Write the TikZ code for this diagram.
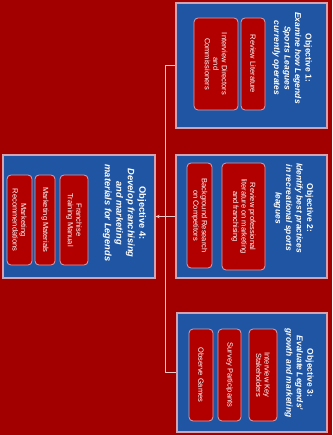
\documentclass[tikz,border=0pt]{standalone}
\usepackage{fontspec}
\setmainfont{Liberation Sans}
\usetikzlibrary{arrows.meta}
\definecolor{bgred}{HTML}{A20000}
\definecolor{objblue}{HTML}{1F55A2}
\definecolor{itemred}{HTML}{B20000}
\definecolor{edgepink}{HTML}{D6A2B0}
\definecolor{linepink}{HTML}{F0C6C6}

\begin{document}
\begin{tikzpicture}[x=1pt,y=-1pt,
    objbox/.style={draw=edgepink,fill=objblue,line width=1.2pt,inner sep=0pt,minimum width=151pt},
    itembox/.style={draw=edgepink,fill=itemred,rounded corners=4pt,line width=0.8pt,rotate=-90,
      align=center,text=white,inner sep=1pt,font=\fontsize{7.5}{8.5}\selectfont},
    heading/.style={rotate=-90,align=center,text=white,font=\fontsize{8.5}{10.5}\selectfont\bfseries},
    link/.style={draw=linepink,line width=0.8pt}]
    \fill[bgred] (0,0) rectangle (332,435);
    \useasboundingbox (0,0) rectangle (332,435);
    % objective boxes
    \node[objbox,minimum height=125pt] (obja) at (251.5,65.5) {};
    \node[objbox,minimum height=123pt] (objb) at (251.5,216.5) {};
    \node[objbox,minimum height=119pt,minimum width=150pt] (objc) at (252,372.5) {};
    \node[objbox,minimum height=123pt,minimum width=152pt] (objd) at (79,216.5) {};
    % headings
    \node[heading] (heada) at (292,58) {Objective 1:\\ \textit{Examine how Legends}\\ \textit{Sports Leagues}\\ \textit{currently operates}};
    \node[heading] (headb) at (293.5,208) {Objective 2:\\ \textit{Identify best practices}\\ \textit{in recreational sports}\\ \textit{leagues}};
    \node[heading] (headc) at (299,373) {Objective 3:\\ \textit{Evaluate Legends'}\\ \textit{growth and marketing}};
    \node[heading,font=\fontsize{9.3}{11.5}\selectfont\bfseries] (headd) at (124.5,213) {Objective 4:\\ \textit{Develop franchising}\\ \textit{and marketing}\\ \textit{materials for Legends}};
    % tasks
    \node[itembox,minimum width=92pt,minimum height=24pt] (taska1) at (253,64) {Review Literature};
    \node[itembox,minimum width=92pt,minimum height=44pt] (taska2) at (216,64) {Interview Directors\\and\\Commissioners};
    \node[itembox,minimum width=107pt,minimum height=43pt] (taskb1) at (243.5,216.5) {Review professional\\literature on marketing\\and franchising};
    \node[itembox,minimum width=105pt,minimum height=25pt] (taskb2) at (199.5,215.5) {Background Research\\on Competitors};
    \node[itembox,minimum width=92pt,minimum height=28pt] (taskc1) at (263,375) {Interview Key\\Stakeholders};
    \node[itembox,minimum width=92pt,minimum height=23pt] (taskc2) at (229.5,375) {Survey Participants};
    \node[itembox,minimum width=92pt,minimum height=24pt] (taskc3) at (201,375) {Observe Games};
    \node[itembox,minimum width=90pt,minimum height=28pt] (taskd1) at (74,220) {Franchise\\Training Manual};
    \node[itembox,minimum width=90pt,minimum height=20pt] (taskd2) at (45,220) {Marketing Materials};
    \node[itembox,minimum width=90pt,minimum height=25pt] (taskd3) at (19.5,220) {Marketing\\Recommendations};
    % connectors
    \draw[link] (obja.west) -- ++(-10,0) |- (objc.west);
    \draw[link,-{Stealth[length=4pt,width=3.5pt]}] (objb.west) -- (objd.east);
\end{tikzpicture}
\end{document}
